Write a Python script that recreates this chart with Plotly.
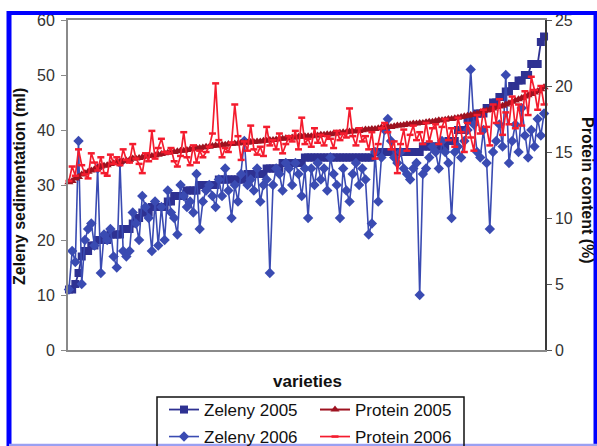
import plotly.graph_objects as go

# ---------------- data ----------------
varieties = list(range(1, 151))

zeleny_2005 = [
    11, 11, 12, 14, 17, 18, 18, 19, 19, 20,
    20, 20, 20, 21, 21, 21, 21, 22, 22, 22,
    23, 24, 24, 25, 25, 25, 26, 26, 26, 26,
    26, 27, 27, 28, 28, 28, 28, 29, 29, 29,
    29, 30, 30, 30, 30, 30, 30, 31, 31, 31,
    31, 31, 31, 31, 31, 31, 32, 32, 32, 32,
    32, 32, 33, 33, 33, 33, 33, 34, 34, 34,
    34, 34, 34, 34, 35, 35, 35, 35, 35, 35,
    35, 35, 35, 35, 35, 35, 35, 35, 35, 35,
    35, 35, 35, 35, 35, 35, 36, 36, 36, 36,
    36, 36, 36, 36, 36, 36, 36, 36, 36, 36,
    36, 37, 37, 37, 37, 37, 37, 37, 37, 38,
    38, 38, 40, 40, 40, 42, 42, 42, 43, 43,
    43, 44, 44, 45, 45, 46, 46, 47, 47, 48,
    48, 49, 49, 50, 50, 52, 52, 52, 56, 57,
]

zeleny_2006 = [
    11, 18, 16, 38, 12, 20, 22, 23, 19, 33,
    14, 21, 20, 22, 17, 15, 34, 18, 17, 18,
    25, 23, 20, 28, 26, 24, 18, 27, 19, 26,
    20, 29, 25, 24, 21, 30, 28, 26, 27, 25,
    32, 22, 27, 29, 30, 28, 26, 31, 28, 33,
    29, 24, 30, 27, 32, 38, 30, 31, 29, 33,
    27, 30, 31, 14, 30, 33, 32, 29, 34, 33,
    30, 34, 32, 28, 33, 24, 33, 30, 34, 31,
    33, 29, 35, 32, 30, 24, 33, 29, 27, 32,
    34, 30, 33, 31, 21, 23, 36, 27, 35, 40,
    42, 38, 35, 34, 36, 33, 32, 31, 33, 34,
    10, 32, 33, 35, 37, 36, 33, 38, 36, 34,
    24, 36, 37, 35, 38, 40, 51, 41, 36, 35,
    40, 34, 22, 36, 38, 41, 37, 50, 34, 38,
    41, 36, 44, 39, 35, 40, 37, 42, 39, 43,
]

protein_2005 = [
    12.7, 12.8, 13.0, 13.1, 13.3, 13.4, 13.5, 13.6, 13.7, 13.8,
    13.9, 13.95, 14.0, 14.1, 14.15, 14.2, 14.25, 14.3, 14.35, 14.4,
    14.5, 14.5, 14.55, 14.6, 14.65, 14.7, 14.7, 14.75, 14.8, 14.85,
    14.9, 14.95, 15.0, 15.0, 15.05, 15.1, 15.1, 15.15, 15.2, 15.25,
    15.3, 15.3, 15.35, 15.4, 15.4, 15.45, 15.5, 15.5, 15.55, 15.55,
    15.6, 15.6, 15.65, 15.65, 15.7, 15.7, 15.7, 15.75, 15.75, 15.8,
    15.8, 15.85, 15.85, 15.9, 15.9, 15.95, 16.0, 16.0, 16.05, 16.05,
    16.1, 16.1, 16.15, 16.15, 16.2, 16.2, 16.2, 16.25, 16.25, 16.3,
    16.3, 16.35, 16.35, 16.4, 16.4, 16.45, 16.5, 16.5, 16.55, 16.55,
    16.6, 16.6, 16.65, 16.7, 16.7, 16.75, 16.75, 16.8, 16.85, 16.85,
    16.9, 16.9, 16.95, 17.0, 17.0, 17.05, 17.1, 17.1, 17.15, 17.15,
    17.2, 17.2, 17.25, 17.3, 17.3, 17.35, 17.4, 17.4, 17.45, 17.5,
    17.5, 17.55, 17.6, 17.65, 17.7, 17.75, 17.8, 17.85, 17.9, 18.0,
    18.1, 18.15, 18.2, 18.3, 18.4, 18.45, 18.5, 18.6, 18.7, 18.8,
    18.9, 19.0, 19.1, 19.2, 19.3, 19.4, 19.5, 19.6, 19.75, 19.9,
]

protein_2006 = [
    12.8, 13.9, 13.2, 15.2, 14.0, 13.3, 13.0, 14.9, 14.2, 13.6,
    14.6, 13.4, 13.2, 14.8, 14.1, 14.6, 14.0, 15.2, 14.4, 14.2,
    15.6, 14.5, 14.1, 13.4, 14.9, 14.3, 16.6, 14.5, 15.3, 16.0,
    15.0, 14.9, 15.3, 14.3, 13.9, 14.7, 16.5, 14.6, 14.0, 15.5,
    14.2, 15.1, 14.6, 15.0, 15.4, 16.4, 20.2, 15.9, 14.6, 15.3,
    15.0, 15.7, 18.6, 16.2, 14.4, 15.8, 15.1, 17.0, 15.2, 14.8,
    15.4, 14.7, 16.9, 15.5, 15.9, 15.2, 16.4, 14.9, 15.6, 16.2,
    15.8, 16.6, 15.2, 17.6, 15.6, 16.0, 15.4, 16.8, 15.7, 16.3,
    15.5, 16.2, 16.0, 15.3, 16.6, 15.9, 16.4, 16.1, 18.3, 16.2,
    15.5, 16.8, 15.8, 16.2, 15.2, 16.5, 14.5, 15.6, 16.8, 17.2,
    16.5, 15.2, 15.8, 13.4, 15.6, 16.7, 15.1, 16.3, 17.0, 15.9,
    16.5, 15.6, 17.2, 15.8, 16.8, 17.1, 15.6, 16.9, 17.5, 15.9,
    16.8, 15.4, 17.6, 16.5, 15.0, 17.2, 16.1, 15.1, 17.8, 16.4,
    18.2, 16.9, 15.5, 18.6, 17.2, 19.0, 16.3, 18.0, 17.1, 19.2,
    16.8, 18.6, 17.0, 19.6, 17.8, 20.7, 19.7, 18.2, 20.0, 18.6,
]

left_ticks = [0, 10, 20, 30, 40, 50, 60]
right_ticks = [0, 5, 10, 15, 20, 25]

# ---------------- figure ----------------
FONT = "Liberation Sans, Arial, sans-serif"
C_Z05 = "#2E3192"
C_Z06 = "#3A4BB2"
C_P05 = "#9E1220"
C_P06 = "#F41C2E"

fig = go.Figure()

fig.add_trace(go.Scatter(
    x=varieties, y=zeleny_2005, name="Zeleny 2005", mode="lines+markers",
    line=dict(color=C_Z05, width=1.8),
    marker=dict(symbol="square", size=8, color=C_Z05),
    cliponaxis=False, legend="legend", legendrank=1))
fig.add_trace(go.Scatter(
    x=varieties, y=zeleny_2006, name="Zeleny 2006", mode="lines+markers",
    line=dict(color=C_Z06, width=1.6),
    marker=dict(symbol="diamond", size=8, color=C_Z06),
    cliponaxis=False, legend="legend2", legendrank=1))
fig.add_trace(go.Scatter(
    x=varieties, y=protein_2005, name="Protein 2005", mode="lines+markers",
    line=dict(color=C_P05, width=2),
    marker=dict(symbol="triangle-up", size=8, color=C_P05),
    yaxis="y2", cliponaxis=False, legend="legend", legendrank=2))
fig.add_trace(go.Scatter(
    x=varieties, y=protein_2006, name="Protein 2006", mode="lines+markers",
    line=dict(color=C_P06, width=1.7),
    marker=dict(symbol="line-ew-open", size=5, color=C_P06,
                line=dict(color=C_P06, width=2.5)),
    yaxis="y2", cliponaxis=False, legend="legend2", legendrank=2))

L, R, T, B = 68, 52, 20, 96
W, H = 597, 446
PW, PH = W - L - R, H - T - B


def px(xp):
    return (xp - L) / PW


def py(yp):
    return (T + PH - yp) / PH


blue = "#0000FF"
shapes = [
    dict(type="line", xref="paper", yref="paper", x0=px(9), x1=px(597), y0=py(13), y1=py(13),
         line=dict(color=blue, width=4), layer="above"),
    dict(type="line", xref="paper", yref="paper", x0=px(9), x1=px(9), y0=py(11), y1=py(446),
         line=dict(color=blue, width=5), layer="above"),
    dict(type="line", xref="paper", yref="paper", x0=px(595.5), x1=px(595.5), y0=py(11), y1=py(446),
         line=dict(color=blue, width=4), layer="above"),
    dict(type="line", xref="paper", yref="paper", x0=px(9), x1=px(597), y0=py(445), y1=py(445),
         line=dict(color="#9AA0F2", width=2.5), layer="above"),
    # legend box
    dict(type="rect", xref="paper", yref="paper", x0=px(157), x1=px(464), y0=py(452), y1=py(397),
         line=dict(color="#111111", width=1.5), fillcolor="rgba(0,0,0,0)", layer="above"),
]

annotations = [
    dict(text="<b>varieties</b>", xref="paper", yref="paper", x=px(307), y=py(381),
         showarrow=False, font=dict(family=FONT, size=17, color="#111111"),
         xanchor="center", yanchor="middle"),
    dict(text="<b>Zeleny sedimentation (ml)</b>", xref="paper", yref="paper", x=px(19), y=py(187),
         showarrow=False, textangle=-90, font=dict(family=FONT, size=16, color="#111111"),
         xanchor="center", yanchor="middle"),
    dict(text="<b>Protein content (%)</b>", xref="paper", yref="paper", x=px(588), y=py(190),
         showarrow=False, textangle=90, font=dict(family=FONT, size=16, color="#111111"),
         xanchor="center", yanchor="middle"),
]

legend_common = dict(
    orientation="h", xanchor="left", yanchor="middle",
    font=dict(family=FONT, size=17, color="#111111"),
    bgcolor="rgba(0,0,0,0)", borderwidth=0, entrywidth=106, itemwidth=30,
    tracegroupgap=0,
)

fig.update_layout(
    width=W, height=H,
    margin=dict(l=L, r=R, t=T, b=B, pad=0, autoexpand=False),
    paper_bgcolor="white", plot_bgcolor="white",
    font=dict(family=FONT, size=16, color="#333333"),
    xaxis=dict(range=[0.7, 150.3], showgrid=False, zeroline=False, showticklabels=False,
               ticks="", showline=True, linecolor="#8A8A8A", linewidth=2, mirror=True),
    yaxis=dict(range=[0, 60], tickvals=left_ticks, showgrid=False, zeroline=False,
               showline=True, linecolor="#8A8A8A", linewidth=2, ticks="outside",
               ticklen=5, tickcolor="#8A8A8A", tickwidth=1, ticklabelstandoff=3,
               tickfont=dict(family=FONT, size=16, color="#333333")),
    yaxis2=dict(range=[0, 25], tickvals=right_ticks, overlaying="y", side="right",
                showgrid=False, zeroline=False, showline=True, linecolor="#3A3A3A",
                linewidth=1.5, ticks="outside", ticklen=5, tickcolor="#555555",
                tickfont=dict(family=FONT, size=16, color="#333333")),
    legend=dict(x=px(164), y=py(410), **legend_common),
    legend2=dict(x=px(164), y=py(437), **legend_common),
    shapes=shapes,
    annotations=annotations,
    showlegend=True,
)

fig.write_html("out.html")
